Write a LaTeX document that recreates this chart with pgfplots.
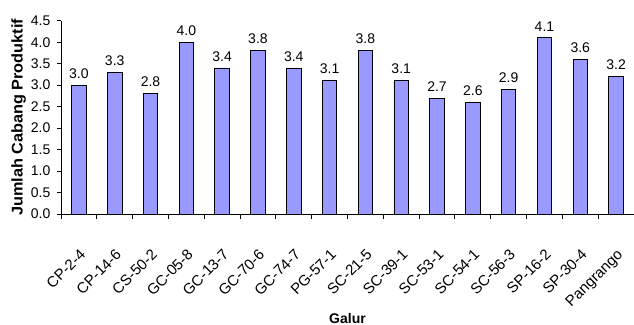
\documentclass[border=0pt]{standalone}
\usepackage{fontspec}
\setmainfont{Liberation Sans}
\usepackage{pgfplots}
\pgfplotsset{compat=1.18}
\definecolor{barfill}{HTML}{9999FF}
\newcommand{\lblfont}{\fontsize{14bp}{16bp}\selectfont}
\newcommand{\rotfont}{\fontsize{15bp}{17bp}\selectfont}
\begin{document}
\begin{tikzpicture}
\begin{axis}[
  name=ax,
  scale only axis,
  width=573bp, height=193.3bp,
  xmin=-0.5, xmax=15.5,
  ymin=0, ymax=4.5,
  clip=false,
  axis x line*=bottom,
  axis y line*=left,
  axis line style={black, line width=1bp},
  tick align=outside,
  tick style={black, line width=1bp},
  major tick length=4bp,
  minor tick length=5bp,
  major x tick style={draw=none},
  xtick={0,...,15},
  minor xtick={-0.5,0.5,...,15.5},
  xticklabels={CP-2-4,CP-14-6,CS-50-2,GC-05-8,GC-13-7,GC-70-6,GC-74-7,PG-57-1,SC-21-5,SC-39-1,SC-53-1,SC-54-1,SC-56-3,SP-16-2,SP-30-4,Pangrango},
  xticklabel style={rotate=45, anchor=north east, inner sep=0pt, font=\rotfont},
  xticklabel shift=30bp,
  ytick={0,0.5,1,1.5,2,2.5,3,3.5,4,4.5},
  yticklabel style={anchor=east, inner sep=0pt, font=\lblfont},
  yticklabel shift=6.5bp,
  ylabel={\scalebox{1.05}[1]{Jumlah Cabang Produktif}},
  ylabel style={at={(axis description cs:0,0.5)}, anchor=center, yshift=42.3bp,
    font=\bfseries\fontsize{15.5bp}{17bp}\selectfont},
  xlabel={Galur},
  xlabel style={at={(axis description cs:0.5,0)}, anchor=base, yshift=-109bp,
    font=\bfseries\lblfont},
  ybar,
  bar width=14.5bp,
  nodes near coords,
  every node near coord/.append style={font=\lblfont, black, yshift=3bp},
  /pgf/number format/fixed,
  /pgf/number format/fixed zerofill,
  /pgf/number format/precision=1,
  /pgf/number format/assume math mode=true,
]
\addplot[fill=barfill, draw=black, line width=0.9bp] coordinates {
  (0,3.0) (1,3.3) (2,2.8) (3,4.0) (4,3.4) (5,3.8) (6,3.4) (7,3.1)
  (8,3.8) (9,3.1) (10,2.7) (11,2.6) (12,2.9) (13,4.1) (14,3.6) (15,3.2)
};
\end{axis}
\pgfresetboundingbox
\path[use as bounding box] (-61bp,-111bp) rectangle (573bp,214bp);
\end{tikzpicture}
\end{document}
